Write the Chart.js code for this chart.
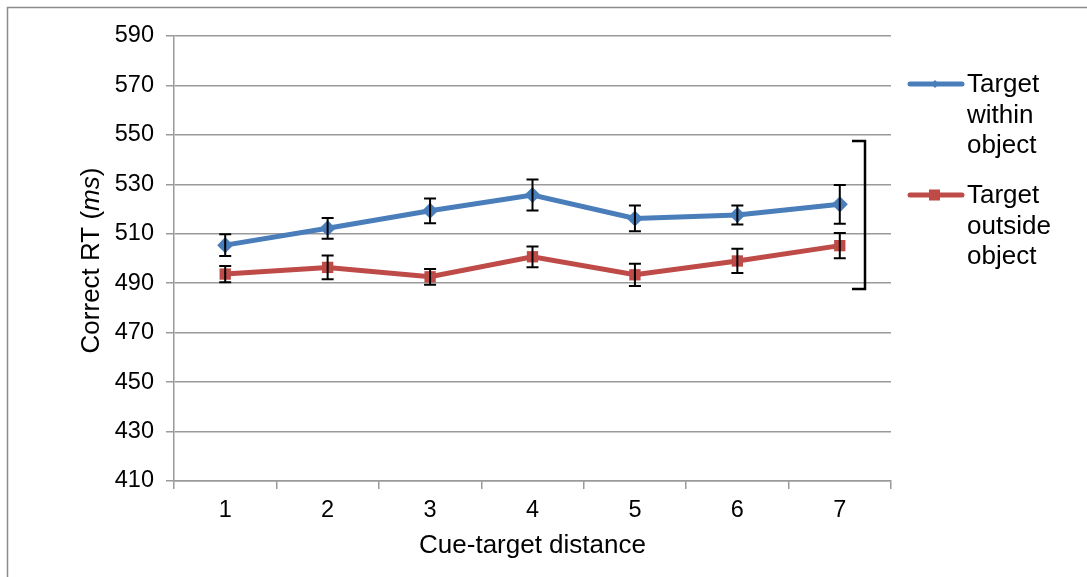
<!DOCTYPE html>
<html>
<head>
<meta charset="utf-8">
<script src="https://cdn.jsdelivr.net/npm/chart.js@4.4.0/dist/chart.umd.min.js"></script>
<style>
  html, body { margin: 0; padding: 0; background: #fff; }
  #wrap { width: 1087px; height: 577px; position: relative; }
</style>
</head>
<body>
<div id="wrap"><canvas id="rtChart"></canvas></div>
<script>
const distances = ['1', '2', '3', '4', '5', '6', '7'];
const withinRT = [505.4, 512.2, 519.3, 525.7, 516.2, 517.6, 521.9];
const withinErr = [4.4, 4.2, 5.0, 6.3, 5.2, 3.8, 7.8];
const outsideRT = [493.7, 496.4, 492.6, 500.7, 493.4, 499.0, 505.2];
const outsideErr = [3.3, 4.8, 3.2, 4.2, 4.5, 4.9, 5.1];
const seriesNames = [['Target', 'within', 'object'], ['Target', 'outside', 'object']];
// significance bracket spans these RT values
const bracketRange = [547.5, 487.7];

const FONT = '"Liberation Sans", Arial, sans-serif';

// outer frame of the figure
const framePlugin = {
  id: 'frame',
  beforeDraw(chart) {
    const c = chart.ctx;
    c.save();
    c.strokeStyle = '#8c8c8c';
    c.lineWidth = 1.5;
    c.strokeRect(7.5, 7.5, 1200, 700);
    c.restore();
  }
};

// error bars from the *Err arrays
const errorBars = {
  id: 'errorBars',
  afterDatasetsDraw(chart) {
    const c = chart.ctx;
    const y = chart.scales.y;
    c.save();
    c.strokeStyle = '#000';
    c.lineWidth = 2;
    chart.data.datasets.forEach((ds, i) => {
      const meta = chart.getDatasetMeta(i);
      meta.data.forEach((pt, j) => {
        const top = y.getPixelForValue(ds.data[j] + ds.err[j]);
        const bot = y.getPixelForValue(ds.data[j] - ds.err[j]);
        c.beginPath();
        c.moveTo(pt.x, top); c.lineTo(pt.x, bot);
        c.moveTo(pt.x - 6, top); c.lineTo(pt.x + 6, top);
        c.moveTo(pt.x - 6, bot); c.lineTo(pt.x + 6, bot);
        c.stroke();
      });
    });
    c.restore();
  }
};

// bracket to the right of the last point, axis titles, and legend
const extras = {
  id: 'extras',
  afterDraw(chart) {
    const c = chart.ctx;
    const y = chart.scales.y;
    const area = chart.chartArea;
    c.save();

    // bracket
    const bx = area.right - 26;
    const by1 = y.getPixelForValue(bracketRange[0]);
    const by2 = y.getPixelForValue(bracketRange[1]);
    c.strokeStyle = '#000';
    c.lineWidth = 2.5;
    c.beginPath();
    c.moveTo(bx - 13, by1); c.lineTo(bx, by1); c.lineTo(bx, by2); c.lineTo(bx - 13, by2);
    c.stroke();

    // y title with italic unit
    c.fillStyle = '#000';
    c.textBaseline = 'middle';
    c.translate(92, (area.top + area.bottom) / 2 + 2);
    c.rotate(-Math.PI / 2);
    const parts = [['Correct RT (', 'normal'], ['ms', 'italic'], [')', 'normal']];
    let total = 0;
    parts.forEach(p => { c.font = p[1] + ' 26px ' + FONT; total += c.measureText(p[0]).width; });
    let px = -total / 2;
    c.textAlign = 'left';
    parts.forEach(p => {
      c.font = p[1] + ' 26px ' + FONT;
      c.fillText(p[0], px, 0);
      px += c.measureText(p[0]).width;
    });
    c.setTransform(1, 0, 0, 1, 0, 0);

    // x title
    c.font = '26px ' + FONT;
    c.textAlign = 'center';
    c.fillText('Cue-target distance', (area.left + area.right) / 2, 546);

    // legend
    chart.data.datasets.forEach((ds, i) => {
      const ly = 84 + i * 111;
      c.strokeStyle = ds.borderColor;
      c.lineWidth = 5;
      c.lineCap = 'round';
      c.beginPath();
      c.moveTo(910, ly); c.lineTo(962, ly);
      c.stroke();
      c.fillStyle = ds.borderColor;
      if (ds.pointStyle === 'rect') {
        c.fillRect(929, ly - 5.5, 11, 11);
      } else {
        c.beginPath();
        c.moveTo(935, ly - 4); c.lineTo(939, ly); c.lineTo(935, ly + 4); c.lineTo(931, ly);
        c.fill();
      }
      c.fillStyle = '#000';
      c.font = '26px ' + FONT;
      c.textAlign = 'left';
      seriesNames[i].forEach((t, k) => c.fillText(t, 967, ly + 1 + k * 30.5));
    });
    c.restore();
  }
};

new Chart(document.getElementById('rtChart'), {
  type: 'line',
  data: {
    labels: distances,
    datasets: [{
      label: 'Target within object',
      data: withinRT,
      err: withinErr,
      borderColor: '#4a7ebb',
      backgroundColor: '#4a7ebb',
      borderWidth: 5,
      pointStyle: 'rectRot',
      pointRadius: 4.5,
      tension: 0
    }, {
      label: 'Target outside object',
      data: outsideRT,
      err: outsideErr,
      borderColor: '#be4b48',
      backgroundColor: '#be4b48',
      borderWidth: 5,
      pointStyle: 'rect',
      pointRadius: 8,
      pointBorderWidth: 0,
      tension: 0
    }]
  },
  options: {
    responsive: true,
    maintainAspectRatio: false,
    animation: false,
    layout: { padding: { top: 36, right: 196, left: 0, bottom: 0 } },
    plugins: {
      legend: { display: false },
      tooltip: { enabled: false }
    },
    scales: {
      x: {
        offset: true,
        grid: { offset: true, drawOnChartArea: false, tickLength: 8, color: '#9a9a9a', lineWidth: 1.5 },
        border: { color: '#9a9a9a', width: 1.5 },
        ticks: { color: '#000', font: { family: FONT, size: 23.5 }, padding: 7, maxRotation: 0 },
        afterFit(scale) { scale.height = 96; }
      },
      y: {
        min: 410,
        max: 590,
        grid: { tickLength: 8, color: '#9a9a9a', lineWidth: 1.5 },
        border: { color: '#9a9a9a', width: 1.5 },
        ticks: { stepSize: 20, color: '#000', font: { family: FONT, size: 23.5 }, padding: 12 },
        afterFit(scale) { scale.width = 174; }
      }
    }
  },
  plugins: [framePlugin, errorBars, extras]
});
</script>
</body>
</html>
